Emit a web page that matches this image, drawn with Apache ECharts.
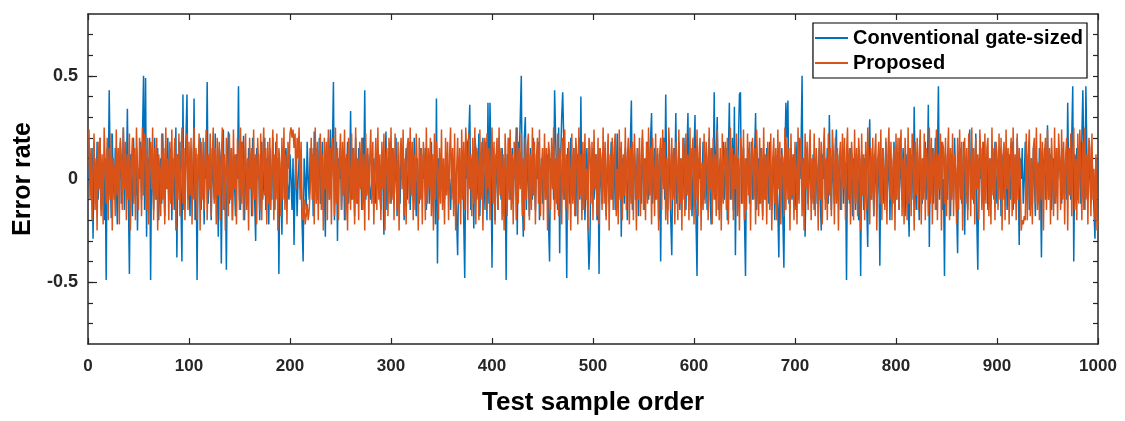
<!DOCTYPE html>
<html>
<head>
<meta charset="utf-8">
<script src="https://cdn.jsdelivr.net/npm/echarts@6/dist/echarts.min.js"></script>
<style>
  html, body { margin: 0; padding: 0; background: #fff; }
  #chart { width: 1125px; height: 421px; }
</style>
</head>
<body>
<div id="chart"></div>
<script>
// 数据: 每个测试样本的误差率
const conventional = [
  0,.12,-.08,.15,-.29,.1,0,-.12,.18,-.1,
  0,.2,-.15,.08,0,-.2,.1,-.49,.15,-.05,
  .43,.05,-.19,.22,0,-.1,.15,0,-.22,.1,
  0,.18,-.12,0,.25,-.15,.08,0,.34,-.1,
  -.46,.12,0,-.18,.2,0,-.08,.15,-.25,.05,
  0,.18,-.1,.22,.5,-.15,.49,-.28,.1,0,
  .2,-.49,.12,0,-.15,.2,0,-.1,.15,-.2,
  0,.1,-.12,.22,0,-.18,.08,0,.2,-.1,
  0,.15,-.2,.1,0,-.15,.25,-.38,.12,0,
  .18,-.1,-.4,.41,-.15,0,.2,.41,-.1,0,
  -.18,.15,0,-.1,.39,-.2,.1,-.49,.12,0,
  .2,-.15,0,.1,-.22,.18,0,.47,-.12,.08,
  0,-.2,.15,0,-.1,.22,-.08,0,-.28,.15,
  .1,-.41,.05,.24,-.15,0,-.44,.1,.23,-.12,
  0,.15,-.2,.08,0,-.18,.12,0,.45,-.1,
  -.15,.18,0,.21,-.2,.05,0,-.12,.15,0,
  .1,-.18,.2,0,-.1,-.3,.15,0,.12,-.2,
  0,.18,-.1,0,.2,-.15,.1,0,-.22,.15,
  0,-.1,.2,0,-.15,.18,0,.1,-.46,.05,
  0,-.27,.12,0,0,.15,0,0,-.1,.12,
  0,-.15,.1,-.32,0,.12,-.18,0,.1,-.05,
  0,-.22,-.4,.1,0,-.15,.18,0,-.1,.15,
  0,.12,-.18,.23,0,.15,-.1,0,.2,-.12,
  0,.18,-.15,0,-.28,.12,0,.2,-.1,.24,
  0,.15,.47,-.2,0,.18,-.3,.1,0,.15,
  -.15,0,.12,-.2,.1,0,.18,-.12,0,.33,
  -.1,.15,0,-.18,.2,0,-.12,.15,0,.1,
  -.15,.2,0,.43,-.1,0,.12,0,0,-.1,
  0,0,.1,0,-.12,0,.15,0,0,-.15,
  .1,0,-.27,.05,.23,-.15,.1,0,.18,-.12,
  0,.15,-.1,0,.2,-.18,.08,0,-.12,.15,
  0,.1,-.2,0,.15,-.1,0,.18,-.15,0,
  .12,-.1,.2,0,-.18,.1,0,-.12,.15,0,
  -.1,.12,0,.15,-.15,0,.1,-.12,0,.18,
  -.1,0,.12,-.22,.39,-.41,.1,0,0,.05,
  0,0,-.1,0,.1,0,-.05,0,-.15,0,
  .1,0,-.12,0,-.2,-.37,.08,0,-.1,0,
  .12,-.2,-.48,.1,0,.18,.2,.36,-.15,.1,
  0,-.24,.2,.15,-.1,0,.22,-.18,.1,0,
  .2,-.15,0,.18,-.2,.37,-.12,.37,.1,-.43,
  .15,0,-.2,.12,0,-.15,.2,0,-.1,.15,
  0,-.18,.1,-.49,.12,0,.2,-.1,0,.15,
  -.12,.1,0,.25,-.27,.18,.1,.3,.5,-.1,
  -.28,.2,.3,-.15,.12,0,-.18,.15,0,-.1,
  .2,0,-.15,.12,0,.18,-.2,0,.1,-.12,
  0,.15,-.1,0,.12,-.22,-.4,.1,0,.15,
  -.1,.43,.2,0,-.15,.25,-.36,.1,.3,.42,
  .2,-.1,0,-.48,.15,0,-.12,.2,0,-.1,
  .15,0,-.18,.12,0,.2,-.1,.4,-.15,0,
  .12,-.2,0,.15,-.22,-.44,-.3,.1,0,.15,
  -.1,0,.12,-.2,.1,-.46,.15,0,-.12,.1,
  0,.15,-.18,0,.1,-.12,0,.18,-.1,0,
  .12,-.15,0,.22,-.1,0,.15,-.28,.1,0,
  -.12,.15,0,-.2,.1,0,.18,.38,-.15,0,
  .12,-.1,0,.15,-.18,.1,0,-.12,.2,0,
  -.15,.1,0,.18,-.1,0,.2,.32,-.12,0,
  .15,-.1,0,.12,-.2,.1,-.4,.15,0,.2,
  -.1,.41,0,-.15,.12,0,-.2,-.37,.1,.15,
  0,.32,-.12,0,.18,-.15,.1,0,-.1,.2,
  0,-.15,.12,.32,-.1,0,.15,-.18,0,.12,
  .31,-.2,-.47,.1,0,.15,-.12,0,.18,-.1,
  0,.12,-.15,0,.2,-.1,-.22,.15,0,.42,
  -.1,.12,.3,-.15,0,.1,-.12,0,.18,-.1,
  0,.15,-.2,.12,.37,-.1,0,.2,-.15,.35,
  -.37,.1,0,.18,.41,.42,-.12,0,.15,-.2,
  -.47,.1,0,.15,-.12,0,.18,-.1,0,.12,
  .32,-.15,0,.1,-.12,.15,0,-.18,.12,0,
  -.1,.15,0,-.12,.18,0,-.15,.1,0,-.2,
  .12,0,-.15,-.38,.1,0,.15,-.2,-.43,.1,
  .37,.2,.38,-.12,0,.15,-.1,0,.12,-.15,
  0,.18,-.1,.2,0,.15,.5,-.15,.1,-.28,
  0,.15,-.12,0,.18,-.1,0,.12,-.15,0,
  .1,-.12,0,.15,-.1,-.25,.12,0,.18,-.1,
  0,.15,-.12,.31,0,-.15,.1,0,-.12,.15,
  .24,-.1,0,.12,-.15,0,.1,-.12,0,.08,
  -.49,.1,0,-.12,.15,0,-.18,.1,0,-.15,
  .12,0,-.2,.1,-.47,.12,0,-.15,.1,0,
  -.12,-.33,.15,.29,-.1,0,.12,-.18,0,.1,
  -.15,0,.12,-.42,.1,0,.15,-.12,0,.18,
  -.1,0,.15,-.2,.1,0,-.12,.18,0,-.1,
  .12,0,-.15,.2,0,-.1,.15,0,-.18,.12,
  0,-.1,-.28,.15,0,.12,-.1,.35,0,-.15,
  .12,0,-.2,.15,0,-.12,.1,0,.18,-.1,
  0,.36,-.33,.1,0,.15,-.12,0,.2,-.15,
  .1,.45,-.1,0,.18,-.15,0,-.47,.12,0,
  -.1,.15,0,-.18,.12,0,-.1,.2,0,-.15,
  -.36,.1,0,.15,-.12,0,.18,-.27,.1,0,
  -.15,.12,.24,-.1,0,.15,-.12,0,.22,-.2,
  -.44,.1,0,.15,-.12,0,.18,-.1,0,.12,
  -.15,0,.1,-.12,.15,0,-.1,.18,0,-.12,
  .1,0,.15,-.18,0,.12,-.1,0,.15,-.15,
  0,.12,-.1,0,.18,-.15,0,.1,-.12,.2,
  0,-.32,.1,0,.15,-.12,0,.18,-.1,0,
  .12,-.15,0,.1,-.12,.15,0,-.18,.1,0,
  -.12,.15,0,-.38,.1,0,.15,-.1,0,.26,
  -.1,0,.12,-.15,0,.1,-.12,0,.15,0,
  0,.1,0,-.12,.15,0,0,.1,-.1,.37,
  0,.15,-.1,.2,.45,-.4,.12,0,.15,-.1,
  0,.18,-.12,.2,.43,.1,-.15,.45,.12,-.1,
  .15,0,-.12,.1,0,-.15,-.29,.1,-.05,.1
];

const proposed = [
  .24,-.1,.15,-.2,.05,.22,-.15,.1,-.25,.18,
  -.05,.2,-.18,.12,-.22,.25,.08,-.12,.2,-.2,
  .15,-.1,.22,-.25,.1,.05,-.18,.24,-.08,.15,
  -.22,.2,.1,-.15,.25,-.05,.18,-.2,.12,-.1,
  .22,-.25,.08,.2,-.12,.15,-.2,.25,.05,-.15,
  .2,.1,-.18,.25,-.08,.22,.12,-.15,.2,-.22,
  .1,.18,-.05,.25,-.2,.15,-.1,.2,-.25,.12,
  .05,-.18,.22,-.1,.15,-.22,.25,-.05,.1,-.2,
  .18,-.12,.24,-.15,.08,.2,-.25,.12,-.1,.22,
  -.18,.05,.25,-.12,.15,-.2,.1,.22,-.15,.18,
  -.08,.2,-.22,.12,.25,-.1,.15,-.2,.05,.22,
  -.25,.18,-.1,.2,-.15,.08,.24,-.2,.12,-.05,
  .22,-.18,.1,.25,-.12,.15,-.22,.2,-.08,.18,
  -.2,.1,.25,-.15,.12,-.25,.2,.05,-.18,.22,
  -.1,.15,-.2,.24,-.05,.12,-.22,.2,.1,-.15,
  .25,-.12,.18,-.2,.08,.22,-.15,.1,-.25,.2,
  -.05,.15,-.18,.24,-.1,.12,-.22,.2,.05,-.15,
  .22,-.2,.1,.25,-.08,.15,-.22,.18,-.12,.2,
  -.15,.05,.24,-.2,.12,-.1,.22,-.25,.15,.08,
  -.18,.2,-.1,.25,-.15,.12,-.22,.18,.05,.22,
  .25,.2,.24,.15,.22,-.05,.2,.1,.25,-.1,
  .18,-.15,-.2,-.1,-.22,-.18,-.12,-.2,-.15,-.05,
  .2,-.1,.15,-.22,.25,-.12,.18,-.2,.1,.22,
  -.15,.12,-.25,.2,-.05,.18,-.2,.24,-.1,.15,
  -.22,.2,.08,-.18,.25,-.12,.15,-.2,.1,.22,
  -.15,.18,-.08,.24,-.2,.12,-.25,.2,.05,-.15,
  .22,-.1,.15,-.22,.25,-.12,.1,-.2,.18,-.05,
  .2,-.15,.12,-.25,.22,-.08,.15,-.2,.1,.24,
  -.12,.18,-.22,.05,.2,-.15,.25,-.1,.12,-.2,
  .18,-.05,.22,-.25,.1,.15,-.18,.2,-.12,.25,
  -.1,.15,-.2,.22,.08,-.15,.18,-.25,.12,.2,
  -.05,.24,-.18,.1,-.22,.15,.2,-.12,.25,-.08,
  .18,-.2,.12,-.15,.22,.05,-.25,.2,-.1,.15,
  -.22,.18,.1,-.2,.25,-.12,.15,-.05,.2,-.18,
  .12,-.25,.22,-.1,.18,.05,-.2,.15,-.12,.24,
  -.15,.1,-.22,.2,-.08,.18,-.2,.12,.25,-.1,
  .15,-.18,.22,-.25,.05,.2,-.12,.15,-.22,.24,
  -.1,.18,-.15,.25,.1,-.2,.22,-.05,.12,-.18,
  .2,-.12,.25,-.22,.15,.08,-.2,.24,-.1,.18,
  -.25,.12,.2,-.15,.22,-.05,.15,-.2,.1,.25,
  -.12,.18,-.22,.1,.2,-.15,.25,-.08,.15,-.2,
  .12,-.25,.22,.05,-.18,.2,-.1,.24,-.15,.12,
  -.22,.18,.08,-.2,.25,-.12,.15,-.05,.22,-.18,
  .1,-.25,.2,-.1,.15,.22,-.2,.12,-.15,.25,
  -.08,.18,-.22,.1,.2,-.12,.24,-.18,.05,.15,
  -.2,.22,-.1,.15,-.25,.18,.12,-.15,.2,-.05,
  .25,-.2,.1,-.12,.22,-.18,.15,.08,-.22,.2,
  -.1,.24,-.15,.12,-.2,.18,.05,-.25,.22,-.12,
  .15,-.18,.2,.1,-.22,.25,-.08,.12,-.2,.18,
  -.15,.22,-.1,.05,-.25,.2,.15,-.12,.18,-.2,
  .24,-.05,.12,-.18,.2,-.22,.15,.1,-.15,.25,
  -.12,.18,-.2,.08,.22,-.25,.12,-.1,.2,-.15,
  .15,.22,-.18,.05,-.22,.24,-.1,.18,-.2,.12,
  -.08,.25,-.15,.1,.2,-.22,.15,-.12,.18,-.2,
  .22,.05,-.25,.15,-.1,.2,-.18,.12,.24,-.15,
  .1,-.2,.18,-.12,.25,-.08,.15,-.22,.2,.05,
  -.18,.22,-.1,.15,-.25,.12,.2,-.15,.24,-.05,
  .18,-.2,.1,-.22,.25,.12,-.15,.2,-.1,.15,
  -.22,.18,.05,-.2,.24,-.12,.1,-.25,.2,.15,
  -.18,.22,-.08,.12,-.2,.25,-.15,.1,.2,-.22,
  .15,-.1,.24,-.18,.12,.2,-.25,.08,-.15,.22,
  -.12,.18,.1,-.2,.25,-.05,.15,-.22,.2,-.1,
  .12,-.18,.24,.05,-.2,.15,-.25,.22,-.12,.1,
  .18,-.15,.2,-.22,.08,.25,-.1,.15,-.2,.12,
  -.05,.22,-.18,.1,-.25,.2,.15,-.12,.24,-.2,
  .1,-.15,.22,-.08,.18,-.25,.12,.2,-.1,.15,
  -.22,.24,.05,-.18,.2,-.12,.15,-.2,.25,-.1,
  .12,-.22,.18,.08,-.15,.22,-.25,.1,.2,-.12,
  .15,-.2,.24,-.05,.18,-.22,.12,.1,-.18,.25,
  -.15,.2,-.1,.15,-.25,.22,-.08,.12,-.2,.18,
  .05,-.22,.25,-.12,.15,.2,-.18,.1,-.25,.22,
  -.05,.18,-.15,.12,.24,-.2,.1,-.12,.22,-.18,
  .15,.05,-.25,.2,-.1,.18,-.22,.12,.25,-.15,
  .1,-.2,.22,-.08,.15,-.18,.24,.12,-.22,.2,
  -.12,.15,-.25,.1,.18,-.15,.22,-.05,.2,-.2,
  .12,.25,-.1,.15,-.22,.18,.08,-.2,.24,-.12,
  .15,-.18,.2,.1,-.25,.22,-.08,.12,-.2,.18,
  -.15,.25,.05,-.22,.15,-.1,.2,-.18,.12,.22,
  -.25,.1,.18,-.12,.24,-.2,.15,.05,-.15,.2,
  -.22,.12,.25,-.1,.18,-.2,.08,.15,-.25,.22,
  -.1,.2,-.15,.12,.24,-.18,.1,-.22,.2,.05,
  -.2,.25,-.12,.15,-.18,.22,.1,-.25,.18,-.08,
  .2,-.15,.12,.24,-.22,.1,-.1,.22,-.2,.15,
  .08,-.18,.25,-.12,.2,-.22,.15,.1,-.15,.24,
  -.2,.12,-.05,.22,-.25,.18,.15,-.12,.2,-.18,
  .1,.25,-.2,.15,-.1,.22,-.18,.12,.05,-.22,
  .2,-.15,.24,-.1,.18,-.25,.12,.2,-.12,.15,
  -.2,.22,.08,-.18,.25,-.1,.15,-.22,.2,-.05,
  .12,-.2,.24,.1,-.15,.18,-.25,.22,-.12,.15,
  .2,-.18,.1,-.22,.25,-.08,.15,-.2,.18,.12,
  -.15,.22,-.1,.2,-.25,.12,.18,-.2,.24,-.05,
  .15,-.22,.1,.2,-.18,.25,-.12,.12,-.2,.22,
  -.1,.15,.05,-.25,-.2,-.22,-.18,-.2,.22,-.2,
  .12,.24,-.18,.1,-.22,.15,.2,-.12,.25,-.15,
  .08,-.2,.22,-.1,.18,-.25,.12,.2,-.15,.24,
  -.1,.15,-.22,.2,.05,-.18,.25,-.12,.15,-.2,
  .22,.1,-.15,.24,-.1,.18,-.22,.12,.2,-.25,
  .15,-.08,.22,-.18,.12,.25,-.15,.1,-.2,.22,
  -.12,.24,.05,-.2,.18,-.15,.25,-.1,.12,-.22,
  .2,.15,-.18,.22,-.1,.05,-.2,.12,-.25,-.2
];

// 刻度
const yLabelValues = [-0.5, 0, 0.5];
const yTickValues = [-0.7, -0.6, -0.5, -0.4, -0.3, -0.2, -0.1, 0, 0.1, 0.2, 0.3, 0.4, 0.5, 0.6, 0.7];

const boxColor = '#262626';
const font = '"Liberation Sans", Arial, sans-serif';

// x 从 1 开始 (MATLAB plot(y))
const toPoints = arr => arr.map((v, i) => [i + 1, v]);

// 边框轴的公共样式
const boxLine = { show: true, onZero: false, lineStyle: { color: boxColor, width: 1.5 } };
const tickStyle = { color: boxColor, width: 1.2 };

let myChart = echarts.init(document.getElementById('chart'));
myChart.setOption({
  animation: false,
  backgroundColor: '#fff',
  grid: { left: 88, right: 27, top: 14, bottom: 75 },
  legend: {
    orient: 'vertical',
    right: 38,
    top: 23,
    backgroundColor: '#fff',
    borderColor: '#000',
    borderWidth: 1.2,
    padding: [5, 4, 5, 2],
    icon: 'rect',
    itemWidth: 33,
    itemHeight: 2,
    itemGap: 5,
    textStyle: { fontFamily: font, fontWeight: 'bold', fontSize: 20, color: '#000', lineHeight: 20 },
    data: ['Conventional gate-sized', 'Proposed']
  },
  xAxis: [
    {
      type: 'value', min: 0, max: 1000, interval: 100, position: 'bottom',
      name: 'Test sample order', nameLocation: 'middle', nameGap: 46,
      nameTextStyle: { fontFamily: font, fontWeight: 'bold', fontSize: 26, color: '#000' },
      axisLine: boxLine,
      axisTick: { show: true, inside: true, length: 6, lineStyle: tickStyle },
      axisLabel: { margin: 14, fontFamily: font, fontWeight: 'bold', fontSize: 17, color: boxColor, formatter: v => String(v) },
      splitLine: { show: false }
    },
    {
      type: 'value', min: 0, max: 1000, interval: 100, position: 'top',
      axisLine: boxLine,
      axisTick: { show: true, inside: true, length: 6, lineStyle: tickStyle },
      axisLabel: { show: false },
      splitLine: { show: false }
    }
  ],
  yAxis: [
    {
      type: 'value', min: -0.8, max: 0.8, position: 'left',
      name: 'Error rate', nameLocation: 'middle', nameGap: 47,
      nameTextStyle: { fontFamily: font, fontWeight: 'bold', fontSize: 25, color: '#000' },
      axisLine: boxLine,
      axisTick: { show: true, inside: true, length: 5, customValues: yTickValues, lineStyle: tickStyle },
      axisLabel: {
        margin: 10, customValues: yLabelValues,
        fontFamily: font, fontWeight: 'bold', fontSize: 18, color: boxColor,
        formatter: v => String(v)
      },
      splitLine: { show: false }
    },
    {
      type: 'value', min: -0.8, max: 0.8, position: 'right',
      axisLine: boxLine,
      axisTick: { show: true, inside: true, length: 5, customValues: yTickValues, lineStyle: tickStyle },
      axisLabel: { show: false },
      splitLine: { show: false }
    },
    {
      // 主刻度稍长
      type: 'value', min: -0.8, max: 0.8, position: 'left',
      axisLine: { show: false, onZero: false },
      axisTick: { show: true, inside: true, length: 9, customValues: yLabelValues, lineStyle: tickStyle },
      axisLabel: { show: false },
      splitLine: { show: false }
    }
  ],
  series: [
    {
      name: 'Conventional gate-sized',
      type: 'line',
      symbol: 'none',
      color: '#0072BD',
      lineStyle: { width: 1.5, color: '#0072BD' },
      data: toPoints(conventional)
    },
    {
      name: 'Proposed',
      type: 'line',
      symbol: 'none',
      color: '#D95319',
      lineStyle: { width: 1.5, color: '#D95319' },
      data: toPoints(proposed)
    }
  ]
});
</script>
</body>
</html>
